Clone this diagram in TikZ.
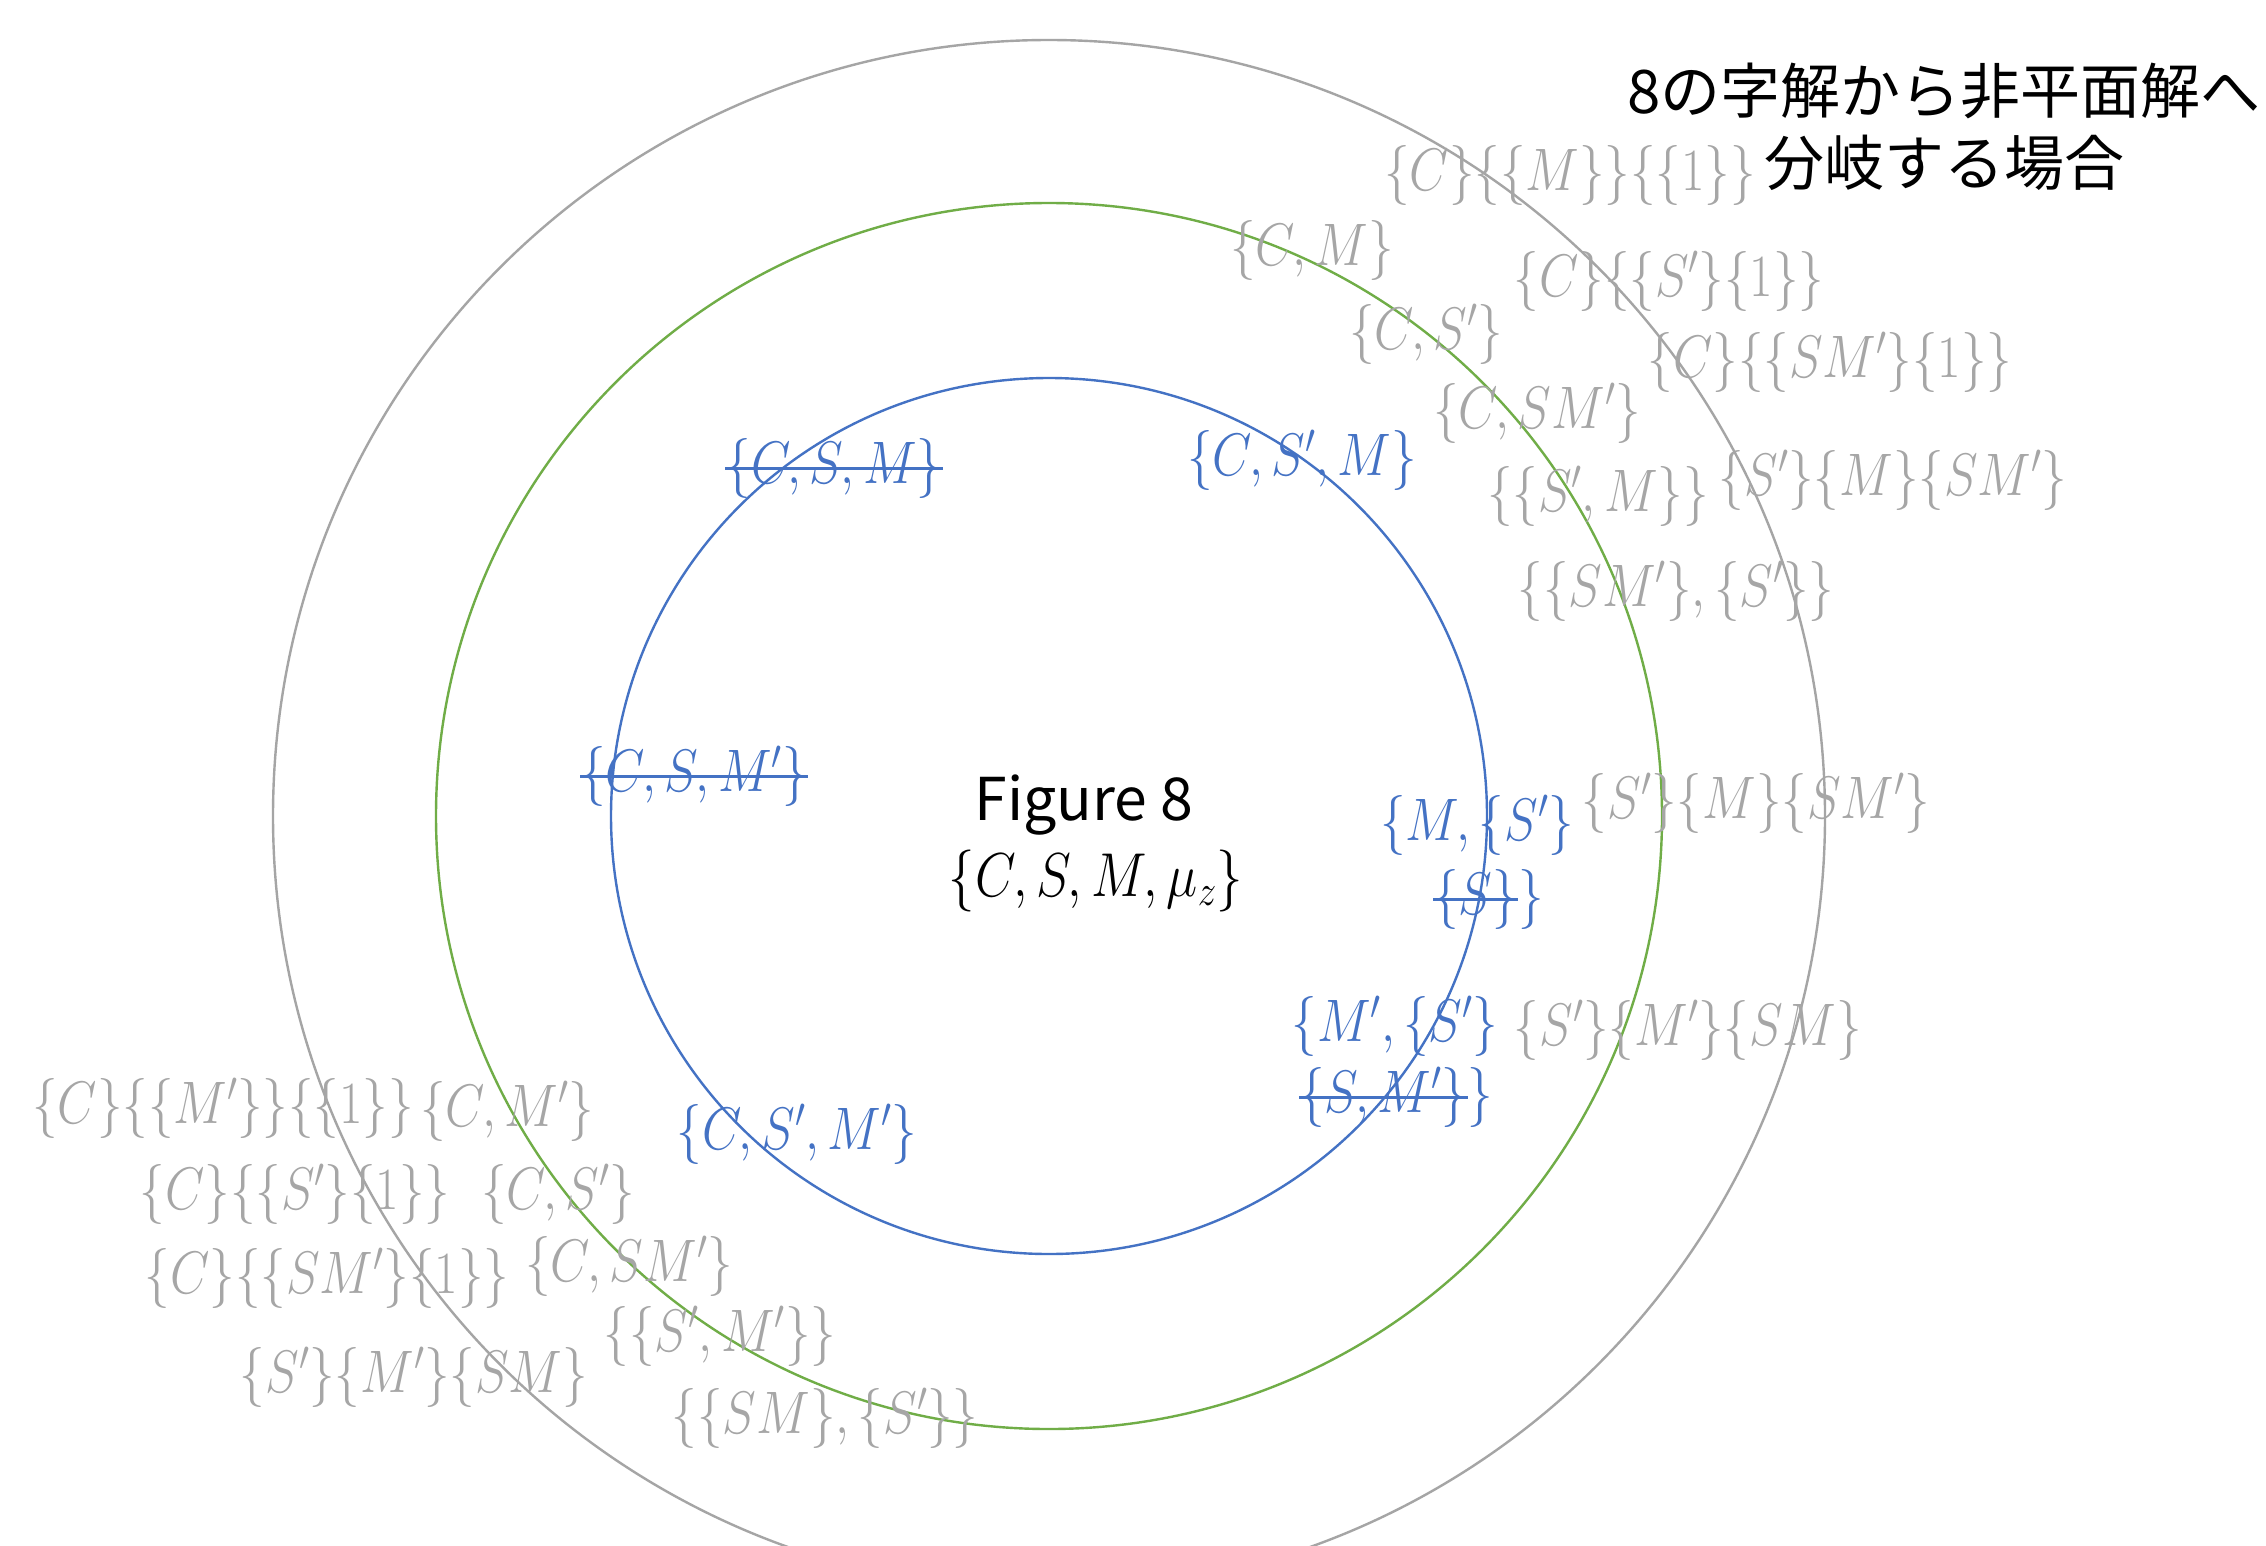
\RequirePackage{fix-cm}
\documentclass[tikz,border=0pt]{standalone}
\usepackage{fontspec}
\newfontfamily\jp{Noto Sans CJK JP}
\definecolor{cgray}{HTML}{A5A5A5}
\definecolor{tgray}{HTML}{A6A6A6}
\definecolor{oblue}{HTML}{4472C4}
\definecolor{ogreen}{HTML}{70AD47}
\newcommand{\mth}[1]{\scalebox{0.85}[1]{$#1$}}
\begin{document}
\begin{tikzpicture}[x=1pt,y=1pt,
  ring/.style={line width=2.4pt},
  gtxt/.style={text=tgray, inner sep=0pt, font=\fontsize{60}{72}\selectfont},
  btxt/.style={text=oblue, inner sep=0pt, font=\fontsize{60}{72}\selectfont},
  ktxt/.style={text=black, inner sep=0pt, font=\fontsize{62}{72}\selectfont},
  strike/.style={draw=oblue, line width=3pt}]
\useasboundingbox (0,-1545) rectangle (2266,0);
\clip (0,-1545) rectangle (2266,0);
\fill[white] (0,-1545) rectangle (2266,0);
\coordinate (O) at (1049,-816);
\draw[ring, cgray] (O) circle[radius=776];
\draw[ring, ogreen] (O) circle[radius=613];
\draw[ring, oblue] (O) circle[radius=438];

% title
\node[align=center, inner sep=0pt, font=\jp\fontsize{60}{72}\selectfont] (title) at (1944,-127) {8の字解から非平面解へ\\分岐する場合};

% centre
\node[inner sep=0pt, font=\jp\fontsize{59}{66}\selectfont] (fig) at (1084,-805) {Figure 8};
\node[ktxt] (set) at (1096,-881) {\mth{\{C,S,M,\mu_z\}}};

% gray, upper right
\node[gtxt] (g1) at (1570,-175) {\mth{\{C\}\{\{M\}\}\{\{1\}\}}};
\node[gtxt] (g2) at (1312,-250) {\mth{\{C,M\}}};
\node[gtxt] (g3) at (1669,-281) {\mth{\{C\}\{\{S'\}\{1\}\}}};
\node[gtxt] (g4) at (1426,-334) {\mth{\{C,S'\}}};
\node[gtxt] (g5) at (1830,-362) {\mth{\{C\}\{\{SM'\}\{1\}\}}};
\node[gtxt] (g6) at (1537,-413) {\mth{\{C,SM'\}}};
\node[gtxt] (g7) at (1598,-496) {\mth{\{\{S',M\}\}}};
\node[gtxt] (g8) at (1893,-480) {\mth{\{S'\}\{M\}\{SM'\}}};
\node[gtxt] (g9) at (1676,-591) {\mth{\{\{SM'\},\{S'\}\}}};
\node[gtxt] (g10) at (1756,-803) {\mth{\{S'\}\{M\}\{SM'\}}};
\node[gtxt] (g11) at (1688,-1030) {\mth{\{S'\}\{M'\}\{SM\}}};

% gray, lower left
\node[gtxt] (g12) at (223,-1108) {\mth{\{C\}\{\{M'\}\}\{\{1\}\}}};
\node[gtxt] (g13) at (507,-1111) {\mth{\{C,M'\}}};
\node[gtxt] (g14) at (295,-1194) {\mth{\{C\}\{\{S'\}\{1\}\}}};
\node[gtxt] (g15) at (558,-1194) {\mth{\{C,S'\}}};
\node[gtxt] (g16) at (327,-1278) {\mth{\{C\}\{\{SM'\}\{1\}\}}};
\node[gtxt] (g17) at (629,-1266) {\mth{\{C,SM'\}}};
\node[gtxt] (g18) at (720,-1336) {\mth{\{\{S',M'\}\}}};
\node[gtxt] (g19) at (414,-1377) {\mth{\{S'\}\{M'\}\{SM\}}};
\node[gtxt] (g20) at (825,-1418) {\mth{\{\{SM\},\{S'\}\}}};

% blue
\node[btxt] (b1) at (834,-468) {\mth{\{C,S,M\}}};
\draw[strike] (b1.west) -- (b1.east);
\node[btxt] (b2) at (1302,-460) {\mth{\{C,S',M\}}};
\node[btxt] (b3) at (694,-776) {\mth{\{C,S,M'\}}};
\draw[strike] (b3.west) -- (b3.east);
\node[btxt] (b4a) at (1477,-825) {\mth{\{M,\{S'\}}};
\node[btxt, anchor=west] (b4b) at (1433,-899) {\mth{\{S\}}};
\node[btxt, anchor=west] (b4c) at (b4b.east) {\mth{\}}};
\draw[strike] (b4b.west) -- (b4b.east);
\node[btxt] (b5a) at (1395,-1026) {\mth{\{M',\{S'\}}};
\node[btxt, anchor=west] (b5b) at (1299,-1097) {\mth{\{S,M'\}}};
\node[btxt, anchor=west] (b5c) at (b5b.east) {\mth{\}}};
\draw[strike] (b5b.west) -- (b5b.east);
\node[btxt] (b6) at (797,-1134) {\mth{\{C,S',M'\}}};
\end{tikzpicture}
\end{document}
